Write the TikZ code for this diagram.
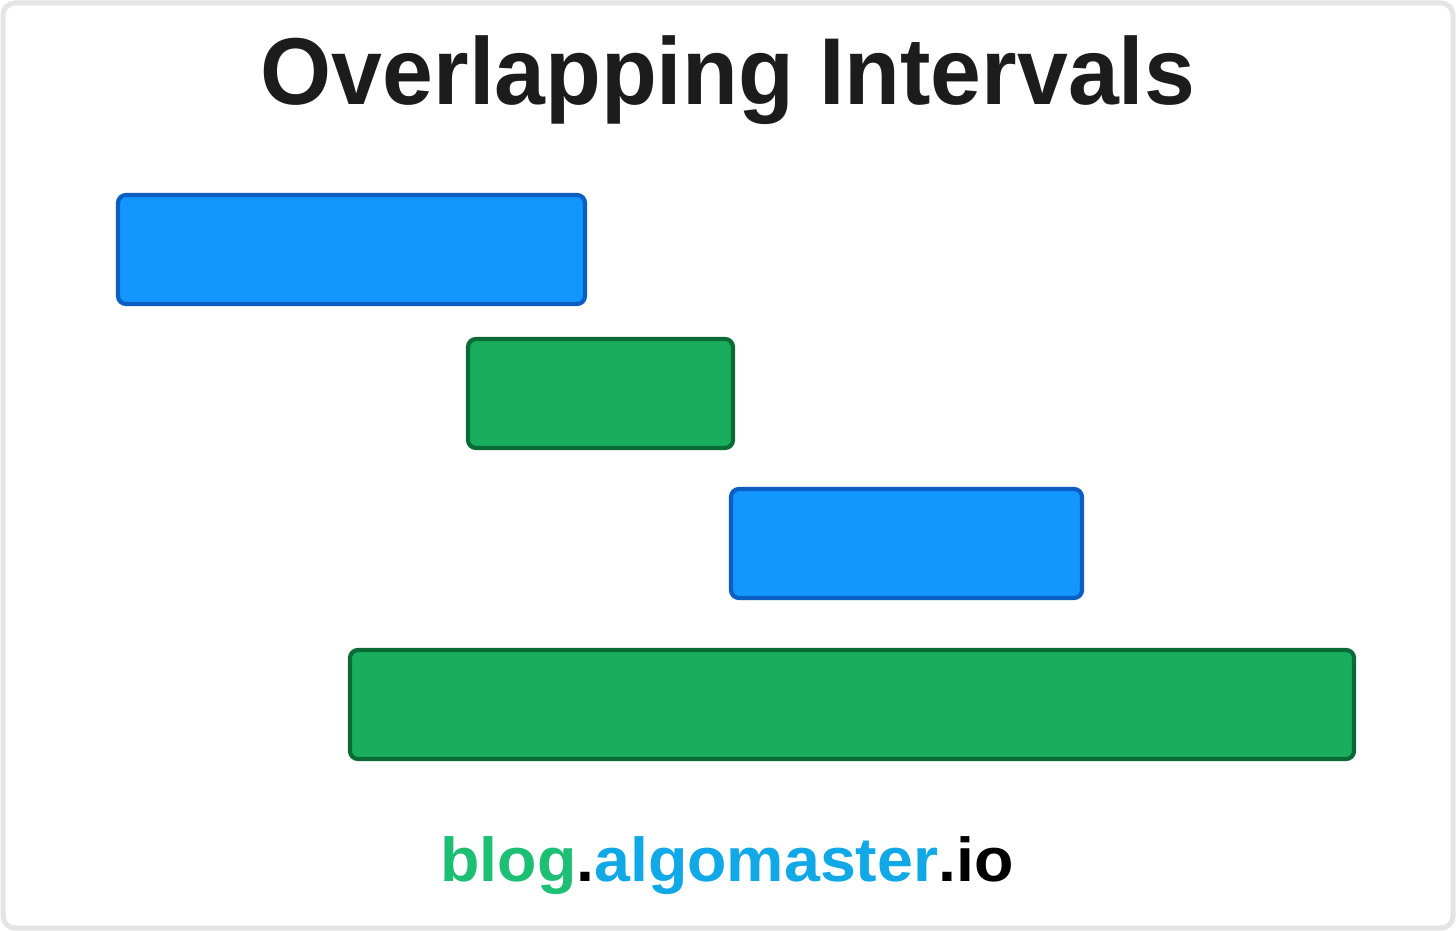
\documentclass[tikz,border=0pt]{standalone}
\usepackage{fontspec}
\setmainfont{Liberation Sans}
\definecolor{frame}{HTML}{E4E4E4}
\definecolor{bluefill}{HTML}{1296FF}
\definecolor{blueedge}{HTML}{0B5EC2}
\definecolor{greenfill}{HTML}{19AE5D}
\definecolor{greenedge}{HTML}{0B6B36}
\definecolor{titlecol}{HTML}{1C1C1C}
\definecolor{logogreen}{HTML}{1DBF74}
\definecolor{logoblue}{HTML}{10A8E6}
\tikzset{
  bar/.style={draw, line width=4.2pt, rounded corners=8pt},
  bluebar/.style={bar, fill=bluefill, draw=blueedge},
  greenbar/.style={bar, fill=greenfill, draw=greenedge},
}
\begin{document}
\begin{tikzpicture}[x=1pt,y=-1pt]
\useasboundingbox (0,0) rectangle (1456,931);
\fill[white] (0,0) rectangle (1456,931);
\draw[frame, line width=5pt, rounded corners=12pt] (3,3) rectangle (1453,928);
\node[font=\bfseries\fontsize{95}{95}\selectfont, text=titlecol, anchor=base, inner sep=0] (title) at (728,105) {\scalebox{0.962}[1]{Overlapping Intervals}};
\draw[bluebar] (118,195) rectangle (585,304);
\draw[greenbar] (468,339) rectangle (733,448);
\draw[bluebar] (731,489) rectangle (1082,598);
\draw[greenbar] (350,650) rectangle (1354,759);
\node[font=\bfseries\fontsize{62}{62}\selectfont, anchor=base, inner sep=0] (logo) at (727,881) {\scalebox{1.04}[1]{\textcolor{logogreen}{blog}\textcolor{black}{.}\textcolor{logoblue}{algomaster}\textcolor{black}{.io}}};
\end{tikzpicture}
\end{document}
